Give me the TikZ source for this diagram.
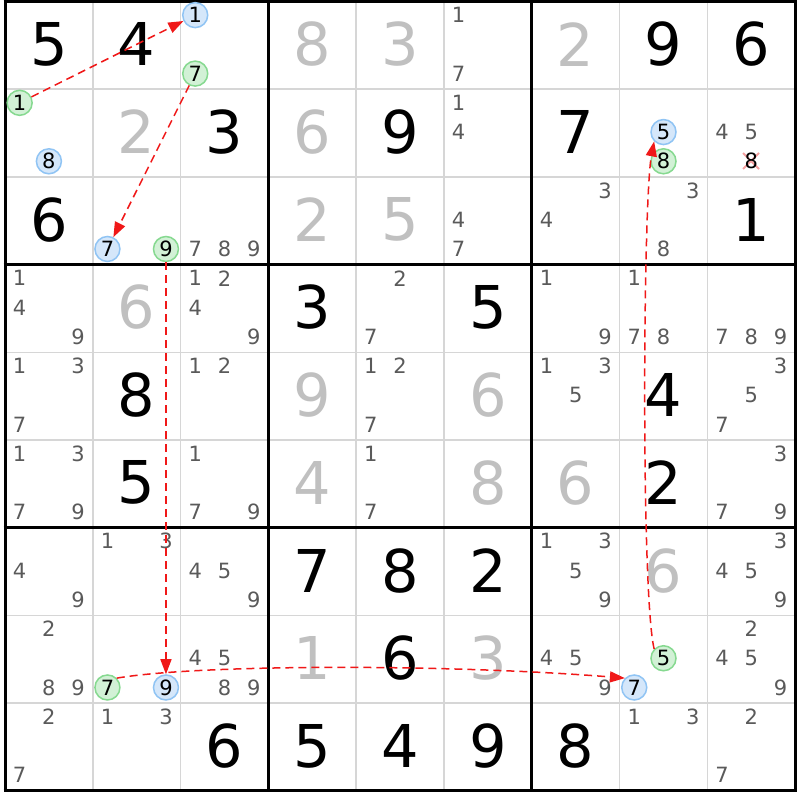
\documentclass[tikz,border=0pt]{standalone}
\usepackage{fontspec}
\setmainfont{DejaVu Sans}
\usetikzlibrary{arrows.meta}
\definecolor{solvedgray}{HTML}{C0C0C0}
\definecolor{candgray}{HTML}{5A5A5A}
\definecolor{gridgray}{HTML}{D6D6D6}
\definecolor{blueF}{HTML}{D5E7FA}
\definecolor{blueD}{HTML}{90C4F4}
\definecolor{greenF}{HTML}{D2F1D6}
\definecolor{greenD}{HTML}{86D990}
\definecolor{linkred}{HTML}{F01818}
\definecolor{xred}{HTML}{F4A0A0}
\tikzset{
  bigdigit/.style={inner sep=0pt, font=\fontsize{59}{62}\selectfont},
  givenD/.style={bigdigit, text=black},
  solvedD/.style={bigdigit, text=solvedgray},
  cand/.style={inner sep=0pt, font=\fontsize{21}{22}\selectfont, text=candgray},
  candK/.style={cand, text=black},
  candB/.style={cand, circle, minimum size=25pt, draw=blueD, fill=blueF, line width=1.5pt, text=black},
  candG/.style={cand, circle, minimum size=25pt, draw=greenD, fill=greenF, line width=1.5pt, text=black},
  link/.style={draw=linkred, line width=1.5pt, dash pattern=on 8pt off 5pt, -{Triangle[length=15pt,width=11pt]}},
  gridthin/.style={draw=gridgray, line width=1.6pt},
  gridthick/.style={draw=black, line width=3pt},
  crossmark/.style={draw=xred, line width=1.8pt},
}
\newcommand\Gv[3]{\node[givenD] (d#1#2) at ({5+(#2-0.5)*87.8},{1.5+(#1-0.5)*87.7-1}) {#3};}
\newcommand\Sv[3]{\node[solvedD] (d#1#2) at ({5+(#2-0.5)*87.8},{1.5+(#1-0.5)*87.7-1}) {#3};}
\newcommand\Cd[4][cand]{%
  \pgfmathsetmacro\cx{5+(#3-1)*87.8+(2*mod(#4-1,3)+1)*87.8/6}%
  \pgfmathsetmacro\cy{1.5+(#2-1)*87.7+(2*int((#4-1)/3)+1)*87.7/6-1}%
  \node[#1] (c#2#3#4) at (\cx,\cy) {#4};}
\newcommand\Cs[3]{\foreach \k in {#3}{\Cd{#1}{#2}{\k}}}
\begin{document}
\begin{tikzpicture}[x=1pt,y=-1pt]
\useasboundingbox (0,0) rectangle (800,800);
\fill[white] (0,0) rectangle (800,800);
% grid
\foreach \i in {1,2,4,5,7,8}{
  \draw[gridthin] ({5+\i*87.8},1.5) -- ({5+\i*87.8},790.8);
  \draw[gridthin] (5,{1.5+\i*87.7}) -- (795.2,{1.5+\i*87.7});
}
\foreach \i in {0,3,6,9}{
  \draw[gridthick] ({5+\i*87.8},0) -- ({5+\i*87.8},792.3);
  \draw[gridthick] (3.5,{1.5+\i*87.7}) -- (796.7,{1.5+\i*87.7});
}
% row 1
\Gv{1}{1}{5} \Gv{1}{2}{4} \Cd[candB]{1}{3}{1} \Cd[candG]{1}{3}{7}
\Sv{1}{4}{8} \Sv{1}{5}{3} \Cs{1}{6}{1,7} \Sv{1}{7}{2} \Gv{1}{8}{9} \Gv{1}{9}{6}
% row 2
\Cd[candG]{2}{1}{1} \Cd[candB]{2}{1}{8} \Sv{2}{2}{2} \Gv{2}{3}{3} \Sv{2}{4}{6} \Gv{2}{5}{9}
\Cs{2}{6}{1,4} \Gv{2}{7}{7} \Cd[candB]{2}{8}{5} \Cd[candG]{2}{8}{8} \Cs{2}{9}{4,5}
\draw[crossmark] (743,153) -- (759,169);
\draw[crossmark] (759,153) -- (743,169);
\Cd[candK]{2}{9}{8}
% row 3
\Gv{3}{1}{6} \Cd[candB]{3}{2}{7} \Cd[candG]{3}{2}{9} \Cs{3}{3}{7,8,9} \Sv{3}{4}{2} \Sv{3}{5}{5}
\Cs{3}{6}{4,7} \Cs{3}{7}{3,4} \Cs{3}{8}{3,8} \Gv{3}{9}{1}
% row 4
\Cs{4}{1}{1,4,9} \Sv{4}{2}{6} \Cs{4}{3}{1,2,4,9} \Gv{4}{4}{3} \Cs{4}{5}{2,7} \Gv{4}{6}{5}
\Cs{4}{7}{1,9} \Cs{4}{8}{1,7,8} \Cs{4}{9}{7,8,9}
% row 5
\Cs{5}{1}{1,3,7} \Gv{5}{2}{8} \Cs{5}{3}{1,2} \Sv{5}{4}{9} \Cs{5}{5}{1,2,7} \Sv{5}{6}{6}
\Cs{5}{7}{1,3,5} \Gv{5}{8}{4} \Cs{5}{9}{3,5,7}
% row 6
\Cs{6}{1}{1,3,7,9} \Gv{6}{2}{5} \Cs{6}{3}{1,7,9} \Sv{6}{4}{4} \Cs{6}{5}{1,7} \Sv{6}{6}{8}
\Sv{6}{7}{6} \Gv{6}{8}{2} \Cs{6}{9}{3,7,9}
% row 7
\Cs{7}{1}{4,9} \Cs{7}{2}{1,3} \Cs{7}{3}{4,5,9} \Gv{7}{4}{7} \Gv{7}{5}{8} \Gv{7}{6}{2}
\Cs{7}{7}{1,3,5,9} \Sv{7}{8}{6} \Cs{7}{9}{3,4,5,9}
% row 8
\Cs{8}{1}{2,8,9} \Cd[candG]{8}{2}{7} \Cd[candB]{8}{2}{9} \Cs{8}{3}{4,5,8,9} \Sv{8}{4}{1}
\Gv{8}{5}{6} \Sv{8}{6}{3} \Cs{8}{7}{4,5,9} \Cd[candG]{8}{8}{5} \Cd[candB]{8}{8}{7} \Cs{8}{9}{2,4,5,9}
% row 9
\Cs{9}{1}{2,7} \Cs{9}{2}{1,3} \Gv{9}{3}{6} \Gv{9}{4}{5} \Gv{9}{5}{4} \Gv{9}{6}{9} \Gv{9}{7}{8}
\Cs{9}{8}{1,3} \Cs{9}{9}{2,7}
% links
\draw[link] (c211) -- (c131);
\draw[link] (c137) -- (c327);
\draw[link] (c329) -- (c829);
\draw[link] (c827.north east) .. controls (200,664) and (450,664) .. (c887.north west);
\draw[link] (c885.north west) .. controls (641,595) and (643,200) .. (c285.south west);
\end{tikzpicture}
\end{document}
